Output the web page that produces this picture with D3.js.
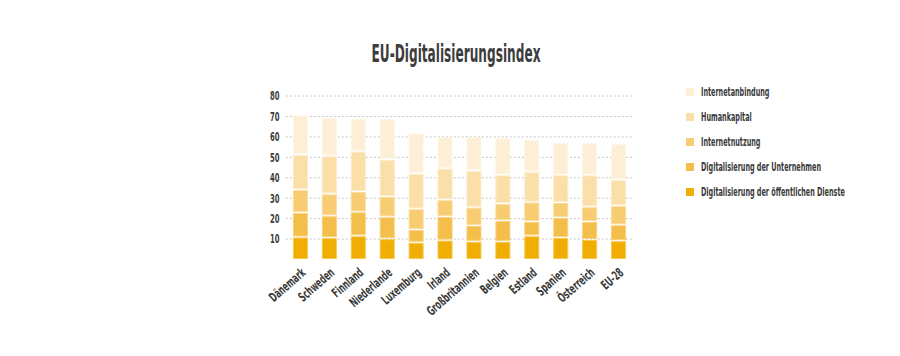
<!DOCTYPE html>
<html><head><meta charset="utf-8">
<script src="https://cdn.jsdelivr.net/npm/d3@7"></script>
<style>
body{margin:0;background:#fff;}
text{font-family:"DejaVu Sans Condensed","DejaVu Sans",sans-serif;font-weight:bold;fill:#3a3a3a;}
</style></head>
<body>
<svg id="chart" width="900" height="356"></svg>
<script>
const countries = ["Dänemark","Schweden","Finnland","Niederlande","Luxemburg","Irland","Großbritannien","Belgien","Estland","Spanien","Österreich","EU-28"];
const seriesNames = ["Digitalisierung der öffentlichen Dienste","Digitalisierung der Unternehmen","Internetnutzung","Humankapital","Internetanbindung"];
const oeffentlich = [11.0,10.7,11.6,10.2,8.4,9.5,8.9,8.9,11.6,10.8,9.8,9.2];
const unternehmen = [12.0,10.7,11.7,10.7,6.2,11.6,7.8,10.2,7.0,9.8,8.8,7.8];
const nutzung     = [11.3,10.7,10.0,9.9,10.2,8.1,8.9,8.3,9.5,7.3,7.2,9.3];
const humankapital= [17.0,18.6,19.7,18.1,17.3,15.5,17.9,14.0,14.8,13.5,15.6,12.7];
const anbindung   = [19.4,18.7,16.1,20.0,19.8,15.4,16.6,18.2,15.9,15.8,15.8,17.6];
const yTicks = [10,20,30,40,50,60,70,80];
const colors = ["#f0ae03","#f4be4a","#f7cc72","#fbdfa8","#fdefd6"];
const strokes = ["#f6c955","#f8d27d","#fadd9c","#fdebc8","#fef6e7"];

const svg = d3.select("#chart");
const x = d3.scaleBand().domain(countries).range([286,633]).paddingInner(0.48).paddingOuter(0.24);
const y = d3.scaleLinear().domain([0,80]).range([259.5,96]);

// title
const title = svg.append("text").attr("x",0).attr("y",0).attr("text-anchor","middle")
  .attr("font-size",25).style("fill","#3d3d3d").text("EU-Digitalisierungsindex");
title.attr("transform",`translate(456,62) scale(${169/title.node().getComputedTextLength()},1)`);

// grid
const grid = svg.append("g");
grid.selectAll("line").data(yTicks).join("line")
  .attr("x1",286).attr("x2",633).attr("y1",d=>y(d)).attr("y2",d=>y(d))
  .attr("stroke","#b5b5b5").attr("stroke-width",1).attr("stroke-dasharray","1.5,2.5");

// y axis labels
const yAxis = d3.axisLeft(y).tickValues(yTicks).tickSize(0).tickPadding(0);
const yg = svg.append("g").attr("transform","translate(279.5,0)").call(yAxis);
yg.select(".domain").remove();
const yText = yg.selectAll("text").attr("font-size",12).attr("font-family",null).style("fill","#3a3a3a").attr("x",0);
{
  const n = yText.filter(d=>d===80).node().getComputedTextLength();
  yText.attr("transform",`scale(${9.5/n},1)`);
}

// stacked bars
const rows = countries.map((c,i)=>({country:c, s0:oeffentlich[i], s1:unternehmen[i], s2:nutzung[i], s3:humankapital[i], s4:anbindung[i]}));
const stack = d3.stack().keys(["s0","s1","s2","s3","s4"]);
const layers = stack(rows);
svg.append("g").selectAll("g").data(layers).join("g")
  .attr("fill",(d,i)=>colors[i]).attr("stroke",(d,i)=>strokes[i])
  .selectAll("rect").data(d=>d).join("rect")
  .attr("x",d=>x(d.data.country)+0.5)
  .attr("width",x.bandwidth()-1)
  .attr("y",d=>y(d[1])+1)
  .attr("height",d=>Math.max(0,y(d[0])-y(d[1])-2))
  .attr("stroke-width",1);

// x labels
const xAxis = d3.axisBottom(x).tickSize(0).tickPadding(0);
const xg = svg.append("g").attr("transform","translate(0,266)").call(xAxis);
xg.select(".domain").remove();
const xText = xg.selectAll("text").attr("font-family",null).attr("font-size",13)
  .attr("text-anchor","end").attr("x",0).attr("y",0).attr("dy",0).style("fill","#3a3a3a");
{
  const gb = xText.filter(d=>d==="Großbritannien").node().getComputedTextLength();
  const dk = xText.filter(d=>d==="Dänemark").node().getComputedTextLength();
  const f = (59/gb + 47/dk)/2;
  xText.attr("transform",`translate(6,8) rotate(-41) scale(${f},1)`);
}

// legend
const legendOrder = [4,3,2,1,0];
const lg = svg.append("g");
legendOrder.forEach((si,k)=>{
  const yy = 92 + k*25;
  lg.append("rect").attr("x",686).attr("y",yy-4).attr("width",8).attr("height",8).attr("fill",colors[si]);
  lg.append("text").attr("class","lt").attr("data-y",yy).attr("x",0).attr("y",0).attr("dy","0.35em").attr("font-size",12).text(seriesNames[si]);
});
{
  const lt = lg.selectAll("text.lt");
  const n = lt.filter(function(){return this.textContent===seriesNames[0];}).node().getComputedTextLength();
  const f = 144/n;
  lt.attr("transform",function(){return `translate(701,${this.getAttribute("data-y")}) scale(${f},1)`;});
}
</script>
</body></html>
